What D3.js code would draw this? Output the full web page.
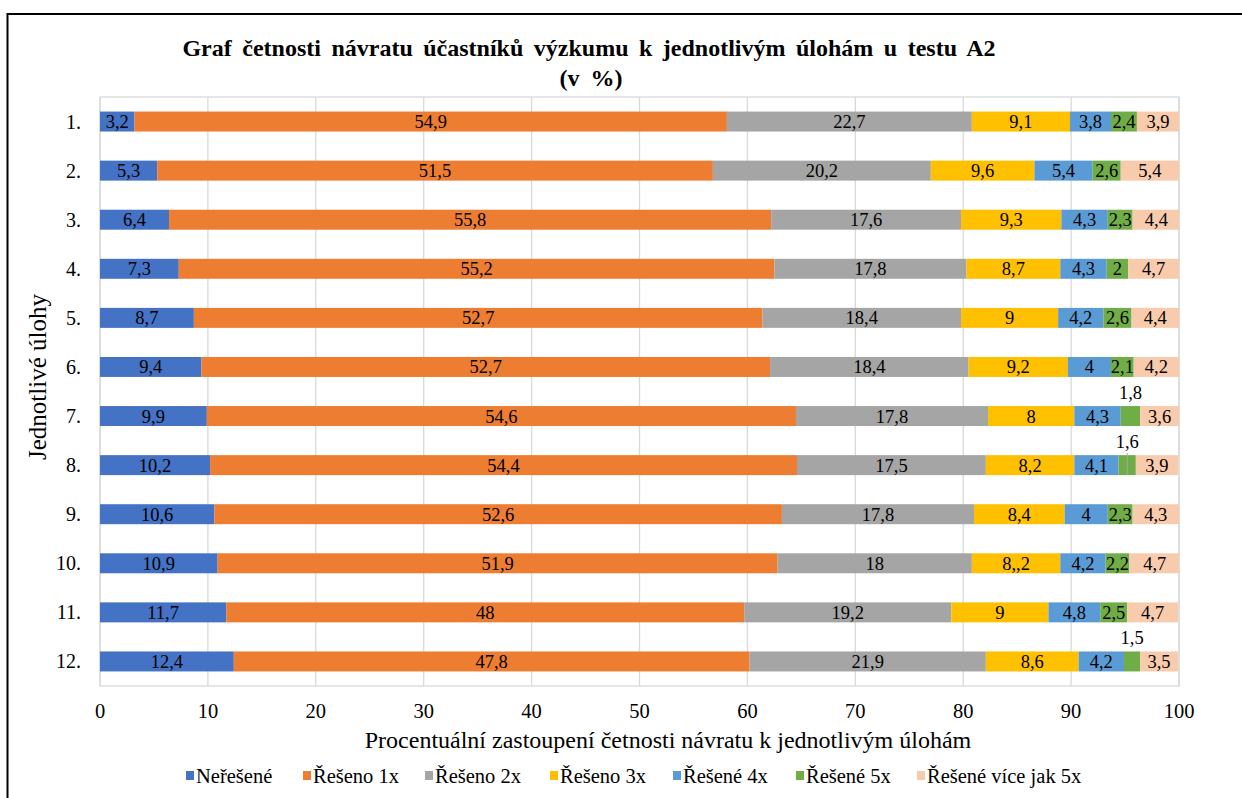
<!DOCTYPE html>
<html><head><meta charset="utf-8">
<script src="https://cdn.jsdelivr.net/npm/d3@7"></script>
<style>
html,body{margin:0;padding:0;background:#fff;}
svg text{font-family:'Liberation Serif','DejaVu Serif',serif;}
</style></head>
<body><svg id="c" width="1242" height="798" font-family="Liberation Serif, DejaVu Serif, serif"></svg>
<script>
const categories = ["1.","2.","3.","4.","5.","6.","7.","8.","9.","10.","11.","12."];
const seriesNames = ["Neřešené","Řešeno 1x","Řešeno 2x","Řešeno 3x","Řešené 4x","Řešené 5x","Řešené více jak 5x"];
const seriesColors = ["#4472C4","#ED7D31","#A5A5A5","#FFC000","#5B9BD5","#70AD47","#F8CBAD"];
const nereseno = [3.2,5.3,6.4,7.3,8.7,9.4,9.9,10.2,10.6,10.9,11.7,12.4];
const reseno1 = [54.9,51.5,55.8,55.2,52.7,52.7,54.6,54.4,52.6,51.9,48,47.8];
const reseno2 = [22.7,20.2,17.6,17.8,18.4,18.4,17.8,17.5,17.8,18,19.2,21.9];
const reseno3 = [9.1,9.6,9.3,8.7,9,9.2,8,8.2,8.4,8.2,9,8.6];
const reseno4 = [3.8,5.4,4.3,4.3,4.2,4,4.3,4.1,4,4.2,4.8,4.2];
const reseno5 = [2.4,2.6,2.3,2,2.6,2.1,1.8,1.6,2.3,2.2,2.5,1.5];
const resenoVice = [3.9,5.4,4.4,4.7,4.4,4.2,3.6,3.9,4.3,4.7,4.7,3.5];
const xTicks = [0,10,20,30,40,50,60,70,80,90,100];
// label text exceptions as printed in the original (row index, series index, text)
const labelOverrides = [[9,3,"8,,2"]];
// labels drawn above the bar (row index, series index)
const labelsAbove = [[6,5],[7,5],[11,5]];

const series = [nereseno,reseno1,reseno2,reseno3,reseno4,reseno5,resenoVice];
const svg = d3.select("#c");
const FF = "Liberation Serif, DejaVu Serif, serif";
const L=100, R=1179, T=97, B=686;

svg.append("path").attr("d","M7.5,798 V14 H1242").attr("fill","none").attr("stroke","#000").attr("stroke-width",2);

const x = d3.scaleLinear().domain([0,100]).range([L,R]);
const y = d3.scaleBand().domain(categories).range([T,B]).paddingInner(0.593).paddingOuter(0.2965);

svg.append("g").selectAll("line").data(xTicks).join("line")
  .attr("x1",d=>x(d)).attr("x2",d=>x(d)).attr("y1",T).attr("y2",B)
  .attr("stroke","#d9d9d9").attr("stroke-width",1.3);
svg.append("rect").attr("x",L).attr("y",T).attr("width",R-L).attr("height",B-T)
  .attr("fill","none").attr("stroke","#d9d9d9").attr("stroke-width",1.3);

const rows = categories.map((c,i)=>{const o={cat:c}; series.forEach((s,j)=>o["s"+j]=s[i]); return o;});
const stack = d3.stack().keys(series.map((s,j)=>"s"+j))(rows);

svg.append("clipPath").attr("id","pc").append("rect").attr("x",L).attr("y",T-30).attr("width",R-L).attr("height",B-T+60);
const gBars = svg.append("g").attr("clip-path","url(#pc)");
stack.forEach((layer,j)=>{
  gBars.append("g").selectAll("rect").data(layer).join("rect")
    .attr("x",d=>x(d[0])).attr("width",d=>x(d[1])-x(d[0]))
    .attr("y",d=>y(d.data.cat)).attr("height",y.bandwidth())
    .attr("fill",seriesColors[j]);
});

const fmt = v => String(v).replace(".",",");
const gLab = svg.append("g").attr("font-family",FF).attr("font-size",18.5).attr("fill","#000").attr("text-anchor","middle");
stack.forEach((layer,j)=>{
  layer.forEach((d,i)=>{
    let txt = fmt(series[j][i]);
    labelOverrides.forEach(o=>{ if(o[0]===i && o[1]===j) txt=o[2]; });
    const above = labelsAbove.some(o=>o[0]===i && o[1]===j);
    const cx = x((d[0]+d[1])/2);
    const cy = y(d.data.cat)+y.bandwidth()/2;
    if(above){
      gLab.append("text").attr("x",cx).attr("y",cy-24).attr("dy","0.35em").text(txt);
      if(i===7){
        svg.append("line").attr("x1",cx).attr("x2",cx).attr("y1",cy-12).attr("y2",cy+10)
          .attr("stroke","#a6a6a6").attr("stroke-width",1);
      }
    } else {
      gLab.append("text").attr("x",cx).attr("y",cy).attr("dy","0.35em").text(txt);
    }
  });
});

svg.append("g").attr("font-family",FF).selectAll("text").data(categories).join("text")
  .attr("x",81).attr("y",d=>y(d)+y.bandwidth()/2).attr("dy","0.35em")
  .attr("text-anchor","end").attr("font-size",20).attr("fill","#000").text(d=>d);

svg.append("g").attr("font-family",FF).selectAll("text").data(xTicks).join("text")
  .attr("x",d=>x(d)).attr("y",711).attr("dy","0.35em")
  .attr("text-anchor","middle").attr("font-size",20.5).attr("fill","#000").text(d=>d);

svg.append("text").attr("font-family",FF).attr("x",589).attr("y",56).attr("text-anchor","middle")
  .attr("font-size",24).attr("font-weight","bold").attr("word-spacing",4.5)
  .text("Graf četnosti návratu účastníků výzkumu k jednotlivým úlohám u testu A2");
svg.append("text").attr("font-family",FF).attr("x",591).attr("y",86).attr("text-anchor","middle")
  .attr("font-size",24).attr("font-weight","bold").attr("word-spacing",5).text("(v %)");
svg.append("text").attr("font-family",FF).attr("x",668).attr("y",740).attr("dy","0.35em").attr("text-anchor","middle")
  .attr("font-size",24).text("Procentuální zastoupení četnosti návratu k jednotlivým úlohám");
svg.append("text").attr("font-family",FF).attr("transform","translate(37,377) rotate(-90)").attr("dy","0.35em").attr("text-anchor","middle")
  .attr("font-size",25).text("Jednotlivé úlohy");

const legendX = [186,303,425,550,673,796,917];
const lg = svg.append("g").attr("font-family",FF);
seriesNames.forEach((n,j)=>{
  lg.append("rect").attr("x",legendX[j]).attr("y",771).attr("width",8).attr("height",9).attr("fill",seriesColors[j]);
  lg.append("text").attr("x",legendX[j]+10).attr("y",776).attr("dy","0.35em").attr("font-size",20.5).text(n);
});
</script></body></html>
